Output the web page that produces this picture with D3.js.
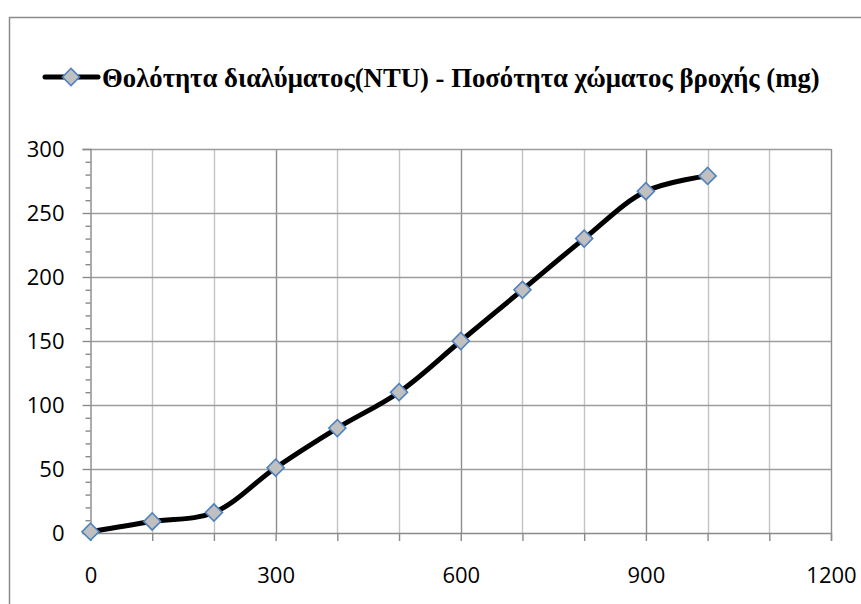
<!DOCTYPE html>
<html>
<head>
<meta charset="utf-8">
<script src="https://cdn.jsdelivr.net/npm/d3@7/dist/d3.min.js"></script>
<style>
  html, body { margin: 0; padding: 0; background: #fff; }
  svg { display: block; }
</style>
</head>
<body>
<svg id="chart" width="861" height="604"></svg>
<script>
// Soil amount (mg) vs. solution turbidity (NTU)
const soilMg = [0, 100, 200, 300, 400, 500, 600, 700, 800, 900, 1000];
const turbidityNTU = [1, 9, 16, 51, 82, 110, 150, 190, 230, 267, 279];
const xTickLabels = [0, 300, 600, 900, 1200];
const yTickLabels = [0, 50, 100, 150, 200, 250, 300];
const seriesName = "Θολότητα διαλύματος(NTU) - Ποσότητα χώματος βροχής (mg)";

const svg = d3.select("#chart");

// outer chart frame (runs past the right and bottom edges)
svg.append("rect")
  .attr("x", 9.5).attr("y", 17.5)
  .attr("width", 900).attr("height", 700)
  .attr("fill", "#fff")
  .attr("stroke", "#8c8c8c").attr("stroke-width", 1.5);

const x = d3.scaleLinear().domain([0, 1200]).range([90.5, 831]);
const y = d3.scaleLinear().domain([0, 300]).range([533, 149]);

const g = svg.append("g");

// vertical gridlines every 100; labelled ones are darker
const xGrid = d3.range(100, 1201, 100);
g.selectAll("line.vgrid").data(xGrid).join("line")
  .attr("class", "vgrid")
  .attr("x1", d => Math.round(x(d)) + 0.5).attr("x2", d => Math.round(x(d)) + 0.5)
  .attr("y1", y(300)).attr("y2", y(0))
  .attr("stroke", d => (d % 300 === 0 ? "#8e8e8e" : "#c4c4c4"))
  .attr("stroke-width", 1.4);

// horizontal gridlines every 50
g.selectAll("line.hgrid").data(yTickLabels.filter(v => v > 0)).join("line")
  .attr("class", "hgrid")
  .attr("x1", x(0)).attr("x2", x(1200))
  .attr("y1", d => Math.round(y(d)) + 0.5).attr("y2", d => Math.round(y(d)) + 0.5)
  .attr("stroke", "#9c9c9c")
  .attr("stroke-width", 1.4);

const axisColor = "#8a8a8a";
const labelFont = "'Open Sans', 'Liberation Sans', sans-serif";

// y axis: major ticks every 50, minor every 10
const yAxis = d3.axisLeft(y).tickValues(yTickLabels).tickSize(8).tickPadding(18)
  .tickFormat(d3.format("d"));
const yAxisG = svg.append("g")
  .attr("transform", `translate(${x(0)},0)`)
  .call(yAxis);
const yMinor = d3.axisLeft(y).tickValues(d3.range(0, 301, 10).filter(v => v % 50 !== 0))
  .tickSize(5).tickFormat("");
const yMinorG = svg.append("g")
  .attr("transform", `translate(${x(0)},0)`)
  .call(yMinor);
yMinorG.select(".domain").remove();

// x axis: ticks every 100, labels every 300
const xAxis = d3.axisBottom(x).tickValues(d3.range(0, 1201, 100)).tickSize(8).tickPadding(26)
  .tickFormat(d => (xTickLabels.includes(d) ? d : ""));
const xAxisG = svg.append("g")
  .attr("transform", `translate(0,${y(0)})`)
  .call(xAxis);

[yAxisG, yMinorG, xAxisG].forEach(a => {
  a.selectAll("path, line").attr("stroke", axisColor).attr("stroke-width", 1.4);
  a.selectAll("text").attr("fill", "#000")
    .style("font-family", labelFont).style("font-size", "22px");
});

// smoothed data line
const points = soilMg.map((v, i) => [v, turbidityNTU[i]]);
const line = d3.line()
  .x(d => x(d[0])).y(d => y(d[1]))
  .curve(d3.curveCatmullRom.alpha(0.5));
svg.append("path")
  .datum(points)
  .attr("d", line)
  .attr("fill", "none")
  .attr("stroke", "#000")
  .attr("stroke-width", 5)
  .attr("stroke-linejoin", "round");

// diamond markers
const diamond = d3.symbol().type(d3.symbolSquare).size(145);
svg.selectAll("path.marker").data(points).join("path")
  .attr("class", "marker")
  .attr("d", diamond)
  .attr("transform", d => `translate(${x(d[0])},${y(d[1])}) rotate(45)`)
  .attr("fill", "#c0c0c0")
  .attr("stroke", "#4f81bd")
  .attr("stroke-width", 1.6);

// legend
const lg = svg.append("g").attr("transform", "translate(0,77)");
lg.append("line")
  .attr("x1", 45).attr("x2", 98).attr("y1", 0).attr("y2", 0)
  .attr("stroke", "#000").attr("stroke-width", 5).attr("stroke-linecap", "round");
lg.append("path")
  .attr("d", diamond)
  .attr("transform", "translate(71,0) rotate(45)")
  .attr("fill", "#c0c0c0").attr("stroke", "#4f81bd").attr("stroke-width", 1.6);
const legendText = lg.append("text")
  .attr("x", 102).attr("y", 10)
  .attr("font-family", "Liberation Serif, DejaVu Serif, serif")
  .attr("font-weight", "bold")
  .attr("font-size", 28)
  .attr("fill", "#000")
  .text(seriesName);
// fit legend text to its span
const w = legendText.node().getComputedTextLength();
const target = 718;
legendText.attr("font-size", (28 * target / w).toFixed(2));
</script>
</body>
</html>
